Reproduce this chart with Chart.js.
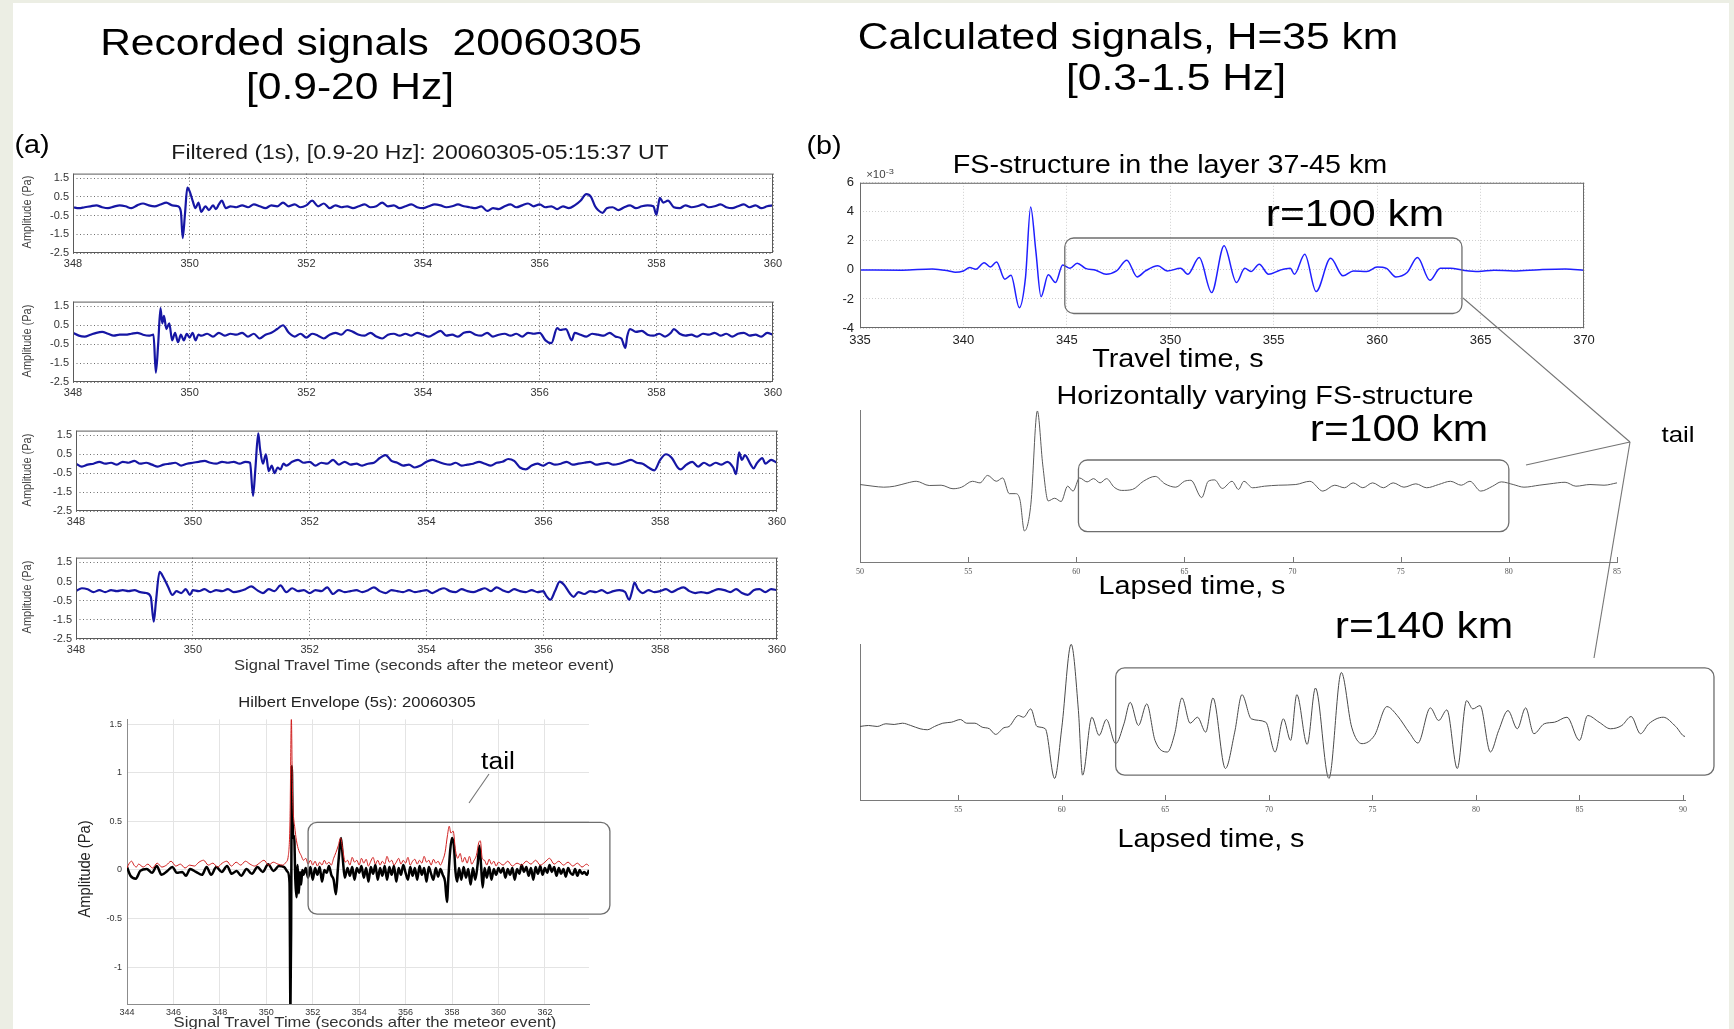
<!DOCTYPE html>
<html>
<head>
<meta charset="utf-8">
<script src="https://cdn.jsdelivr.net/npm/chart.js@4.4.1/dist/chart.umd.min.js"></script>
<style>
  html, body { margin: 0; padding: 0; }
  body { width: 1734px; height: 1029px; background: #eceee4; position: relative; overflow: hidden;
         font-family: 'Liberation Sans', Arial, sans-serif; }
  #sheet { position: absolute; left: 13px; top: 3px; width: 1716px; height: 1026px; background: #fff; }
  .panel { position: absolute; }
  .txt { position: absolute; white-space: pre; line-height: 1; color: #000; }
  #leaders { position: absolute; left: 0; top: 0; }
</style>
</head>
<body>
<div id="sheet"></div>
<script>
// ---- recorded signals, [time s, amplitude Pa] ----
const recTrace1 = [[348.0,-0.05],[348.1,-0.1],[348.2,-0.05],[348.3,0.0],[348.4,0.05],[348.5,-0.05],[348.6,-0.1],[348.7,-0.02],[348.8,0.05],[348.9,0.0],[349.0,-0.1],[349.1,0.05],[349.2,0.15],[349.3,0.05],[349.4,0.0],[349.5,0.1],[349.6,0.2],[349.7,0.05],[349.8,0.0],[349.85,-0.3],[349.88,-1.7],[349.92,-0.4],[349.96,1.0],[350.0,0.8],[350.05,0.3],[350.1,-0.1],[350.15,0.2],[350.2,-0.3],[350.27,0.0],[350.33,-0.2],[350.4,0.05],[350.45,-0.15],[350.5,0.1],[350.55,0.3],[350.62,-0.1],[350.7,0.0],[350.8,-0.05],[350.9,0.05],[351.0,-0.05],[351.1,0.1],[351.2,0.0],[351.3,-0.1],[351.4,0.05],[351.5,0.0],[351.6,0.2],[351.7,0.0],[351.8,0.1],[351.9,-0.05],[352.0,0.05],[352.1,0.3],[352.2,0.0],[352.3,0.15],[352.4,-0.1],[352.5,0.05],[352.6,-0.05],[352.7,0.0],[352.8,-0.1],[352.9,0.0],[353.0,0.1],[353.1,-0.05],[353.2,0.0],[353.3,0.2],[353.4,0.0],[353.5,0.05],[353.6,-0.1],[353.7,0.0],[353.8,0.1],[353.9,-0.05],[354.0,-0.1],[354.1,0.0],[354.2,0.1],[354.3,0.05],[354.4,-0.05],[354.5,0.0],[354.6,0.1],[354.7,0.0],[354.8,-0.05],[354.9,-0.1],[355.0,0.0],[355.1,-0.25],[355.2,-0.1],[355.3,-0.15],[355.4,0.0],[355.5,0.1],[355.6,-0.05],[355.7,0.05],[355.8,0.15],[355.9,0.0],[356.0,0.1],[356.1,-0.05],[356.2,0.0],[356.3,-0.15],[356.4,0.0],[356.5,-0.1],[356.6,0.05],[356.7,0.3],[356.8,0.65],[356.88,0.5],[356.95,0.0],[357.0,-0.2],[357.08,-0.35],[357.15,-0.1],[357.25,-0.05],[357.35,-0.2],[357.45,-0.05],[357.55,0.05],[357.65,-0.1],[357.75,0.0],[357.85,0.05],[357.95,0.0],[358.0,-0.45],[358.03,0.0],[358.06,0.45],[358.12,0.2],[358.2,0.3],[358.3,-0.05],[358.4,-0.1],[358.5,0.05],[358.6,-0.05],[358.7,0.0],[358.8,0.1],[358.9,-0.05],[359.0,0.0],[359.1,0.1],[359.2,-0.05],[359.3,-0.1],[359.4,0.0],[359.5,0.1],[359.6,-0.05],[359.7,0.05],[359.8,-0.1],[359.9,0.0],[360.0,0.05]];

const recTrace2 = [[348.0,0.1],[348.1,-0.05],[348.2,-0.1],[348.3,0.0],[348.4,0.1],[348.5,0.15],[348.6,0.05],[348.7,-0.05],[348.8,0.0],[348.9,0.0],[349.0,0.05],[349.1,0.1],[349.2,0.0],[349.3,-0.05],[349.38,0.0],[349.42,-2.0],[349.46,-0.5],[349.5,1.4],[349.53,0.6],[349.56,1.0],[349.6,0.3],[349.65,0.6],[349.7,-0.3],[349.75,0.1],[349.8,-0.4],[349.85,0.0],[349.9,-0.3],[349.95,0.05],[350.0,-0.15],[350.05,0.1],[350.1,-0.3],[350.15,0.0],[350.2,-0.05],[350.3,0.05],[350.4,-0.1],[350.5,0.1],[350.6,-0.05],[350.7,0.05],[350.8,0.0],[350.9,0.1],[351.0,-0.1],[351.1,0.05],[351.2,-0.2],[351.3,0.0],[351.4,0.1],[351.5,0.3],[351.6,0.5],[351.7,0.1],[351.8,-0.1],[351.9,0.05],[352.0,-0.15],[352.1,0.05],[352.2,-0.05],[352.3,-0.2],[352.4,0.0],[352.5,0.1],[352.6,0.0],[352.7,0.25],[352.8,0.15],[352.9,0.0],[353.0,-0.05],[353.1,0.1],[353.2,-0.1],[353.3,-0.2],[353.4,0.0],[353.5,0.05],[353.6,-0.05],[353.7,0.05],[353.8,-0.05],[353.9,0.1],[354.0,0.0],[354.1,-0.1],[354.2,0.05],[354.3,0.2],[354.4,-0.05],[354.5,0.0],[354.6,-0.1],[354.7,0.1],[354.8,0.15],[354.9,0.0],[355.0,-0.05],[355.1,0.1],[355.2,-0.1],[355.3,0.0],[355.4,0.05],[355.5,-0.05],[355.6,0.05],[355.7,-0.1],[355.8,0.1],[355.9,0.05],[356.0,0.1],[356.1,-0.3],[356.2,-0.45],[356.3,0.35],[356.35,0.25],[356.45,0.3],[356.55,-0.3],[356.6,0.1],[356.7,0.0],[356.8,-0.1],[356.9,0.05],[357.0,0.0],[357.1,-0.05],[357.2,0.1],[357.3,-0.1],[357.4,-0.2],[357.47,-0.7],[357.5,-0.1],[357.55,0.3],[357.65,0.15],[357.75,0.2],[357.85,0.0],[357.95,-0.05],[358.05,0.05],[358.15,-0.1],[358.25,0.1],[358.3,0.3],[358.4,0.05],[358.5,-0.05],[358.6,0.0],[358.7,-0.1],[358.8,0.05],[358.9,0.0],[359.0,0.1],[359.1,-0.05],[359.2,0.05],[359.3,-0.1],[359.4,0.05],[359.5,0.1],[359.6,-0.05],[359.7,0.0],[359.8,-0.1],[359.9,0.1],[360.0,0.0]];

const recTrace3 = [[348.0,0.0],[348.1,-0.15],[348.2,-0.05],[348.3,0.0],[348.4,0.1],[348.5,0.0],[348.6,0.05],[348.7,-0.05],[348.8,0.1],[348.9,0.05],[349.0,0.15],[349.1,0.0],[349.2,0.05],[349.3,-0.05],[349.4,-0.15],[349.5,-0.05],[349.6,0.0],[349.7,0.05],[349.8,-0.1],[349.9,0.0],[350.0,0.05],[350.1,0.1],[350.2,0.15],[350.3,0.05],[350.4,0.0],[350.5,0.1],[350.6,0.05],[350.7,0.1],[350.8,0.0],[350.9,0.1],[350.98,0.05],[351.03,-1.7],[351.07,-0.3],[351.12,1.6],[351.15,0.8],[351.2,0.0],[351.25,0.5],[351.3,-0.4],[351.35,-0.1],[351.4,-0.5],[351.45,-0.2],[351.5,-0.3],[351.55,0.0],[351.6,-0.1],[351.7,0.1],[351.8,0.2],[351.9,0.05],[352.0,0.1],[352.1,-0.1],[352.2,0.05],[352.3,0.0],[352.4,0.2],[352.5,-0.05],[352.6,0.1],[352.7,-0.05],[352.8,0.0],[352.9,-0.1],[353.0,0.0],[353.1,0.05],[353.2,0.3],[353.3,0.45],[353.4,0.15],[353.5,0.05],[353.6,-0.1],[353.7,-0.05],[353.8,-0.2],[353.9,-0.1],[354.0,0.1],[354.1,0.2],[354.2,0.1],[354.3,0.0],[354.4,-0.05],[354.5,0.05],[354.6,-0.1],[354.7,-0.05],[354.8,0.0],[354.9,0.1],[355.0,0.0],[355.1,-0.1],[355.2,0.05],[355.3,0.1],[355.4,0.25],[355.5,0.15],[355.6,-0.2],[355.7,-0.3],[355.8,-0.1],[355.9,0.0],[356.0,-0.1],[356.1,0.05],[356.2,-0.05],[356.3,0.0],[356.4,0.1],[356.5,-0.05],[356.6,0.0],[356.7,0.05],[356.8,0.1],[356.9,-0.05],[357.0,0.0],[357.1,0.05],[357.2,-0.05],[357.3,0.0],[357.4,0.1],[357.5,0.2],[357.6,0.05],[357.7,0.0],[357.8,-0.2],[357.9,-0.35],[358.0,0.2],[358.1,0.5],[358.2,0.3],[358.3,-0.2],[358.35,-0.3],[358.45,-0.05],[358.55,0.1],[358.65,-0.15],[358.75,0.05],[358.85,-0.1],[358.95,0.05],[359.05,-0.05],[359.15,0.1],[359.25,-0.2],[359.3,-0.55],[359.35,0.6],[359.4,0.2],[359.45,0.45],[359.55,-0.05],[359.6,-0.25],[359.65,0.0],[359.75,0.3],[359.8,0.0],[359.9,0.2],[360.0,0.05]];

const recTrace4 = [[348.0,0.0],[348.1,0.15],[348.2,0.1],[348.3,-0.05],[348.4,0.05],[348.5,-0.05],[348.6,0.05],[348.7,0.0],[348.8,0.05],[348.9,0.0],[349.0,0.05],[349.1,-0.05],[349.2,-0.1],[349.28,-0.3],[349.33,-1.6],[349.37,-0.5],[349.43,1.0],[349.5,0.7],[349.58,0.2],[349.65,-0.2],[349.72,0.0],[349.8,-0.1],[349.88,0.1],[349.95,-0.2],[350.0,0.05],[350.1,0.0],[350.2,0.1],[350.3,-0.05],[350.4,0.05],[350.5,0.0],[350.6,0.1],[350.7,-0.05],[350.8,0.0],[350.9,0.1],[351.0,0.25],[351.1,0.05],[351.2,-0.1],[351.3,0.1],[351.4,0.0],[351.5,0.3],[351.6,-0.05],[351.7,0.15],[351.8,0.0],[351.9,0.05],[352.0,-0.1],[352.1,0.05],[352.2,0.0],[352.3,0.2],[352.4,-0.15],[352.5,0.05],[352.6,-0.05],[352.7,0.0],[352.8,0.05],[352.9,-0.05],[353.0,0.05],[353.1,0.2],[353.2,0.0],[353.3,-0.1],[353.4,0.05],[353.5,0.0],[353.6,-0.05],[353.7,0.05],[353.8,-0.05],[353.9,0.0],[354.0,0.05],[354.1,-0.1],[354.2,0.05],[354.3,0.15],[354.4,0.0],[354.5,-0.05],[354.6,0.1],[354.7,0.0],[354.8,-0.05],[354.9,0.05],[355.0,0.15],[355.1,0.0],[355.2,0.2],[355.3,0.05],[355.4,-0.05],[355.5,0.1],[355.6,0.0],[355.7,-0.05],[355.8,0.05],[355.9,-0.05],[356.0,0.0],[356.05,-0.25],[356.12,-0.45],[356.2,0.0],[356.28,0.5],[356.35,0.35],[356.45,-0.1],[356.52,-0.3],[356.6,-0.05],[356.7,-0.15],[356.8,0.0],[356.9,-0.05],[357.0,0.05],[357.1,-0.1],[357.2,0.0],[357.3,0.05],[357.4,-0.05],[357.47,-0.45],[357.52,0.0],[357.56,0.45],[357.62,0.1],[357.7,-0.1],[357.8,0.05],[357.9,-0.05],[358.0,0.0],[358.1,0.1],[358.2,-0.05],[358.3,0.1],[358.4,0.2],[358.5,0.0],[358.6,-0.1],[358.7,-0.05],[358.8,-0.1],[358.9,0.0],[359.0,0.1],[359.1,0.05],[359.2,-0.05],[359.3,0.1],[359.4,-0.1],[359.5,-0.2],[359.6,0.05],[359.7,0.1],[359.8,-0.05],[359.9,0.1],[360.0,0.05]];

// ---- Hilbert envelope plot: raw trace (black) and envelope (red) ----
const hilbertBlack = [[344.0,0.03],[344.15,-0.06],[344.38,-0.09],[344.57,-0.01],[344.85,0.01],[345.08,-0.03],[345.28,0.04],[345.49,-0.05],[345.74,-0.01],[345.95,0.03],[346.15,-0.03],[346.38,-0.02],[346.54,-0.06],[346.72,0.01],[346.97,-0.02],[347.23,-0.05],[347.43,0.03],[347.62,-0.05],[347.85,0.03],[348.08,-0.02],[348.31,0.04],[348.51,-0.04],[348.72,-0.01],[348.92,-0.06],[349.15,0.01],[349.38,-0.04],[349.62,0.03],[349.85,-0.02],[350.08,0.06],[350.31,-0.01],[350.54,0.04],[350.77,0.03],[350.92,-0.02],[351.0,-0.13],[351.04,-1.45],[351.07,-0.6],[351.1,1.07],[351.13,0.55],[351.16,0.33],[351.2,0.35],[351.25,-0.1],[351.3,-0.28],[351.35,0.05],[351.4,-0.24],[351.45,-0.02],[351.5,-0.15],[351.55,0.0],[351.6,-0.05],[351.7,0.02],[351.8,-0.08],[351.9,0.03],[352.0,-0.1],[352.1,0.02],[352.2,-0.05],[352.3,0.03],[352.4,-0.12],[352.5,0.0],[352.6,-0.03],[352.7,0.04],[352.8,-0.05],[352.9,-0.1],[353.0,-0.25],[353.08,0.0],[353.15,0.2],[353.22,0.33],[353.3,0.1],[353.38,-0.08],[353.5,0.02],[353.6,-0.06],[353.7,0.03],[353.8,-0.1],[353.9,0.02],[354.0,-0.03],[354.1,0.04],[354.2,-0.08],[354.3,0.02],[354.4,-0.12],[354.5,0.03],[354.6,-0.04],[354.7,0.05],[354.8,-0.1],[354.9,0.02],[355.0,-0.06],[355.1,0.04],[355.2,-0.1],[355.3,0.03],[355.4,-0.05],[355.5,0.04],[355.6,-0.12],[355.7,0.02],[355.8,-0.05],[355.9,0.05],[356.0,-0.03],[356.1,-0.1],[356.2,0.03],[356.3,-0.06],[356.4,0.02],[356.5,-0.1],[356.6,0.04],[356.7,-0.05],[356.8,0.02],[356.9,-0.12],[357.0,0.03],[357.1,-0.04],[357.2,-0.1],[357.3,0.02],[357.4,-0.07],[357.5,0.01],[357.6,-0.05],[357.7,-0.12],[357.78,-0.33],[357.85,-0.05],[357.92,0.2],[358.0,0.33],[358.08,0.25],[358.15,-0.02],[358.22,-0.12],[358.3,0.02],[358.4,-0.1],[358.5,0.03],[358.6,-0.08],[358.7,0.01],[358.8,-0.15],[358.9,0.02],[359.0,-0.1],[359.1,0.05],[359.18,0.25],[359.25,0.05],[359.32,-0.18],[359.4,0.02],[359.5,-0.08],[359.6,0.03],[359.7,-0.1],[359.8,0.01],[359.9,-0.05],[360.0,0.02],[360.1,-0.03],[360.2,0.02],[360.3,-0.08],[360.4,0.01],[360.5,-0.05],[360.6,0.02],[360.7,-0.1],[360.8,0.01],[360.9,-0.04],[361.0,0.05],[361.1,-0.02],[361.2,0.03],[361.3,-0.06],[361.4,0.02],[361.5,-0.1],[361.6,0.03],[361.7,-0.04],[361.8,0.04],[361.9,-0.05],[362.0,0.02],[362.1,-0.03],[362.2,0.05],[362.3,-0.02],[362.4,0.03],[362.5,-0.06],[362.6,0.02],[362.7,-0.04],[362.8,0.01],[362.9,-0.07],[363.0,0.02],[363.1,-0.03],[363.2,-0.05],[363.3,0.01],[363.4,-0.06],[363.5,0.0],[363.6,-0.04],[363.7,-0.02],[363.8,-0.05],[363.9,0.0]];

const hilbertRed = [[344.0,0.02],[344.1,0.07],[344.2,0.09],[344.3,0.05],[344.4,0.03],[344.5,0.06],[344.7,0.03],[344.9,0.06],[345.1,0.02],[345.3,0.07],[345.5,0.03],[345.7,0.05],[345.9,0.09],[346.1,0.04],[346.3,0.06],[346.5,0.02],[346.7,0.05],[346.9,0.04],[347.1,0.08],[347.3,0.1],[347.5,0.05],[347.7,0.07],[347.9,0.03],[348.1,0.07],[348.3,0.09],[348.5,0.04],[348.7,0.08],[348.9,0.05],[349.1,0.09],[349.3,0.06],[349.5,0.04],[349.7,0.07],[349.9,0.1],[350.1,0.05],[350.3,0.08],[350.5,0.06],[350.7,0.05],[350.85,0.08],[350.95,0.15],[351.02,0.5],[351.08,1.57],[351.12,0.9],[351.16,0.6],[351.22,0.45],[351.3,0.3],[351.4,0.2],[351.5,0.15],[351.6,0.1],[351.7,0.12],[351.8,0.06],[351.9,0.1],[352.0,0.05],[352.1,0.09],[352.2,0.04],[352.3,0.08],[352.4,0.05],[352.5,0.1],[352.6,0.06],[352.7,0.08],[352.8,0.05],[352.9,0.12],[353.0,0.18],[353.1,0.25],[353.2,0.33],[353.3,0.2],[353.4,0.08],[353.5,0.1],[353.6,0.05],[353.7,0.13],[353.8,0.08],[353.9,0.1],[354.0,0.05],[354.1,0.12],[354.2,0.07],[354.3,0.11],[354.4,0.04],[354.5,0.09],[354.6,0.13],[354.7,0.06],[354.8,0.1],[354.9,0.05],[355.0,0.09],[355.1,0.06],[355.2,0.14],[355.3,0.08],[355.4,0.1],[355.5,0.05],[355.6,0.08],[355.7,0.12],[355.8,0.06],[355.9,0.1],[356.0,0.07],[356.1,0.13],[356.2,0.05],[356.3,0.09],[356.4,0.11],[356.5,0.06],[356.6,0.1],[356.7,0.07],[356.8,0.14],[356.9,0.08],[357.0,0.1],[357.1,0.05],[357.2,0.11],[357.3,0.07],[357.4,0.09],[357.5,0.05],[357.6,0.1],[357.7,0.18],[357.8,0.35],[357.88,0.45],[357.95,0.38],[358.05,0.4],[358.15,0.2],[358.25,0.12],[358.35,0.17],[358.45,0.08],[358.55,0.13],[358.65,0.07],[358.75,0.14],[358.85,0.06],[358.95,0.1],[359.05,0.15],[359.15,0.28],[359.22,0.3],[359.3,0.12],[359.4,0.1],[359.5,0.05],[359.6,0.11],[359.7,0.06],[359.8,0.09],[359.9,0.04],[360.0,0.08],[360.2,0.05],[360.4,0.09],[360.6,0.04],[360.8,0.07],[361.0,0.05],[361.2,0.09],[361.4,0.06],[361.6,0.1],[361.8,0.05],[362.0,0.08],[362.2,0.12],[362.4,0.06],[362.6,0.09],[362.8,0.05],[363.0,0.08],[363.2,0.04],[363.4,0.07],[363.6,0.03],[363.8,0.06],[363.9,0.04]];

// ---- calculated signals ----
// FS-structure, r=100 km: travel time s, amplitude x1e-3
const fsTrace = [[335,0],[337.05,-0.02],[338.5,0.07],[339.3,-0.07],[339.6,-0.16],[340.0,-0.07],[340.3,0.16],[340.6,0.05],[341.0,0.5],[341.3,0.2],[341.6,0.55],[342.0,-0.64],[342.3,-0.37],[342.7,-2.6],[343.0,-0.53],[343.25,4.34],[343.5,1.31],[343.75,-1.84],[344.1,-0.34],[344.45,-0.87],[344.8,0.34],[345.15,0.11],[345.5,0.46],[345.9,0.11],[346.4,-0.02],[346.9,-0.3],[347.4,-0.07],[347.9,0.67],[348.4,-0.48],[348.8,-0.07],[349.4,0.28],[349.85,-0.07],[350.5,0.11],[350.85,-0.3],[351.4,0.85],[352.0,-1.56],[352.6,1.66],[353.2,-0.87],[353.6,0.11],[353.9,-0.11],[354.3,0.39],[354.75,-0.3],[355.3,-0.02],[355.8,0.11],[356.0,-0.3],[356.5,1.08],[357.05,-1.49],[357.75,0.8],[358.35,-0.41],[358.85,-0.07],[359.5,-0.11],[360.0,0.2],[360.45,0.11],[360.9,-0.48],[361.45,-0.18],[361.95,0.85],[362.55,-0.71],[363.05,0.11],[363.55,0.11],[364.15,-0.02],[364.9,-0.11],[365.65,-0.02],[366.6,-0.07],[367.85,0.02],[369.1,0.07],[370,-0.02]];

// horizontally varying FS-structure, r=100 km: lapsed time s, relative amplitude
const hvTrace = [[50,0],[50.6,-0.17],[51.1,-0.27],[51.6,-0.17],[52.2,0.17],[52.6,0.33],[53.2,-0.1],[53.75,-0.07],[54.3,-0.43],[54.7,-0.27],[55.2,0.33],[55.55,0.17],[55.9,0.93],[56.3,0.33],[56.6,0.67],[56.9,-0.93],[57.2,-0.93],[57.4,-1.6],[57.6,-4.73],[57.9,-2.0],[58.2,7.5],[58.45,2.0],[58.7,-1.67],[59.0,-1.4],[59.3,-1.73],[59.6,-0.17],[59.85,-0.67],[60.15,0.67],[60.5,0.27],[60.8,0.6],[61.1,0.17],[61.4,0.6],[61.75,-0.27],[62.1,-0.6],[62.6,-0.5],[63.1,0.33],[63.65,0.83],[64.1,0.07],[64.6,-0.27],[65.0,0.33],[65.3,0.43],[65.8,-1.33],[66.1,0.33],[66.4,0.47],[66.75,-0.4],[67.2,0.33],[67.5,-0.5],[67.75,0.33],[68.15,-0.33],[68.7,-0.17],[69.35,-0.07],[70.15,0],[70.8,0.33],[71.4,-0.67],[71.95,-0.07],[72.4,-0.33],[72.8,0.17],[73.25,-0.33],[73.7,0.17],[74.2,-0.33],[74.65,0.17],[75.15,-0.27],[75.7,0.07],[76.2,-0.33],[76.75,0],[77.3,0.33],[77.8,-0.07],[78.2,0.33],[78.7,-0.67],[79.25,-0.17],[79.65,0.27],[80.2,0],[80.7,-0.27],[81.4,-0.07],[81.9,0.07],[82.6,0.23],[83.1,-0.17],[83.75,0],[84.4,-0.07],[85,0.17]];

// horizontally varying FS-structure, r=140 km
const r140Trace = [[50.25,0],[50.66,0.1],[51.08,0],[51.5,0.27],[51.9,0.2],[52.3,0.33],[52.7,0.1],[53.15,-0.23],[53.5,-0.33],[53.85,0],[54.25,0.33],[54.67,0.43],[55.1,0.7],[55.4,0.33],[55.8,0.33],[56.15,-0.07],[56.5,-0.23],[56.8,-0.8],[57.2,-0.13],[57.45,0],[57.9,1.1],[58.15,0.93],[58.5,1.77],[58.8,0],[59.2,-0.23],[59.65,-5.23],[60.0,-0.07],[60.45,8.27],[60.8,1.6],[61.0,-4.9],[61.45,0.93],[61.8,-0.9],[62.15,0.7],[62.6,-1.73],[63.0,0.27],[63.3,2.43],[63.7,0.1],[64.1,2.27],[64.5,-1.4],[65.1,-2.57],[65.45,-0.73],[65.8,2.87],[66.2,0.33],[66.55,0.93],[66.95,-0.57],[67.3,2.87],[67.9,-4.23],[68.35,-0.57],[68.7,3.2],[69.15,0.77],[69.85,0.43],[70.3,-2.57],[70.7,0.77],[71.05,-1.4],[71.35,3.2],[71.85,-1.8],[72.25,3.87],[72.9,-5.23],[73.5,5.43],[74.0,-0.07],[74.5,-1.73],[75.1,-0.9],[75.7,2.0],[76.2,1.1],[76.8,-0.67],[77.2,-1.67],[77.8,1.87],[78.2,0.6],[78.6,1.67],[79.1,-4.23],[79.55,2.6],[79.85,1.77],[80.2,2.1],[80.7,-2.57],[81.1,-0.4],[81.55,1.6],[82.0,-0.23],[82.4,1.87],[82.8,-0.73],[83.3,0.27],[83.8,0.43],[84.4,0.93],[85.0,-1.4],[85.4,1.1],[85.95,0.43],[86.5,-0.23],[87.05,0.1],[87.5,1.0],[87.95,-0.73],[88.35,0.27],[89.05,0.93],[89.65,0],[90.1,-1.0],[90.3,-0.4]];

// ---- tick values ----
const recXTicks = [348, 350, 352, 354, 356, 358, 360];
const recYTicks = [-2.5, -1.5, -0.5, 0.5, 1.5];
const hilXTicks = [344, 346, 348, 350, 352, 354, 356, 358, 360, 362];
const hilYTicks = [-1, -0.5, 0, 0.5, 1, 1.5];
const fsXTicks = [335, 340, 345, 350, 355, 360, 365, 370];
const fsYTicks = [-4, -2, 0, 2, 4, 6];
const hvXTicks = [50, 55, 60, 65, 70, 75, 80, 85];
const r140XTicks = [55, 60, 65, 70, 75, 80, 85, 90];

// "tail" windows, in data units: [t0, t1, top, bottom]
const hilTailBox = [351.8, 364.8, 0.49, -0.455];
const fsTailBox = [344.9, 364.1, 2.2, -3.0];
const hvTailBox = [60.1, 80.0, 2.5, -4.8];
const r140TailBox = [62.6, 91.5, 5.9, -4.9];

const SANS = "'Liberation Sans', Arial, sans-serif";
const SERIF = "'Liberation Serif', 'Times New Roman', serif";
const STRETCH = 1.15;

// frame, rounded windows and small inward tick marks
const decor = {
  id: 'decor',
  afterDatasetsDraw(chart, args, opts) {
    const { ctx, chartArea: a, scales } = chart;
    const sx = scales.x, sy = scales.y;
    ctx.save();
    if (opts.frame) {
      ctx.strokeStyle = opts.frame;
      ctx.lineWidth = 1;
      ctx.strokeRect(a.left + 0.5, a.top + 0.5, a.width - 1, a.height - 1);
    }
    if (opts.box) {
      const [t0, t1, v0, v1] = opts.box;
      const px0 = sx.getPixelForValue(t0), px1 = sx.getPixelForValue(t1);
      const py0 = sy.getPixelForValue(v0), py1 = sy.getPixelForValue(v1);
      ctx.beginPath();
      ctx.roundRect(px0, py0, px1 - px0, py1 - py0, 9);
      ctx.strokeStyle = '#6e6e6e';
      ctx.lineWidth = 1.3;
      ctx.stroke();
    }
    if (opts.marks) {
      ctx.strokeStyle = '#777';
      ctx.lineWidth = 1;
      opts.marks.forEach(v => {
        const px = Math.round(sx.getPixelForValue(v)) + 0.5;
        ctx.beginPath();
        ctx.moveTo(px, a.bottom);
        ctx.lineTo(px, a.bottom - 5);
        ctx.stroke();
      });
    }
    ctx.restore();
  }
};

Chart.register(decor);
Chart.defaults.font.family = SANS;
Chart.defaults.animation = false;

const toXY = pts => pts.map(([x, y]) => ({ x, y }));
const fixedTicks = values => scale => { scale.ticks = values.map(v => ({ value: v })); };

function panel(area, pad, datasets, scales, decorOpts) {
  const [x0, y0, x1, y1] = area;
  const [pl, pt, pr, pb] = pad;
  const w = x1 - x0 + pl + pr, h = y1 - y0 + pt + pb;
  const wrap = document.createElement('div');
  wrap.className = 'panel';
  wrap.style.left = (x0 - pl) + 'px';
  wrap.style.top = (y0 - pt) + 'px';
  wrap.style.width = w + 'px';
  wrap.style.height = h + 'px';
  const canvas = document.createElement('canvas');
  canvas.width = w;
  canvas.height = h;
  wrap.appendChild(canvas);
  document.body.appendChild(wrap);

  scales.x.afterFit = s => { s.height = pb; };
  scales.y.afterFit = s => { s.width = pl; };

  return new Chart(canvas, {
    type: 'line',
    data: { datasets },
    options: {
      responsive: false,
      animation: false,
      events: [],
      layout: { padding: { left: 0, top: pt, right: pr, bottom: 0 } },
      plugins: { legend: { display: false }, tooltip: { enabled: false }, decor: decorOpts || {} },
      scales
    }
  });
}

// every trace is drawn as a smooth monotone curve through its samples
function line(pts, color, width) {
  return {
    data: toXY(pts),
    borderColor: color,
    borderWidth: width,
    pointRadius: 0,
    fill: false,
    cubicInterpolationMode: 'monotone'
  };
}

// ---- recorded panels ----
function recScales() {
  const tickOpts = { color: '#333', font: { size: 11 }, padding: 4, autoSkip: false, maxRotation: 0,
                     callback: v => String(v) };
  const grid = { color: '#6f6f6f', lineWidth: 1, drawTicks: false };
  return {
    x: { type: 'linear', min: 348, max: 360, afterBuildTicks: fixedTicks(recXTicks),
         grid, border: { display: false, dash: [1, 2.5] }, ticks: tickOpts },
    y: { type: 'linear', min: -2.5, max: 1.75, afterBuildTicks: fixedTicks(recYTicks),
         grid, border: { display: false, dash: [1, 2.5] }, ticks: tickOpts }
  };
}

const recAreas = [
  [73, 171, 773, 253],
  [73, 299, 773, 382],
  [76, 428, 777, 511],
  [76, 555, 777, 639]
];
const recTraces = [recTrace1, recTrace2, recTrace3, recTrace4];
recAreas.forEach((area, i) => {
  panel(area, [36, 8, 22, 20], [line(recTraces[i], '#1616a4', 2.2)], recScales(), { frame: '#5a5a5a' });
});

// ---- Hilbert envelope panel ----
panel([127, 717, 589, 1004], [30, 8, 30, 18],
  [line(hilbertRed, '#d01f1f', 1), line(hilbertBlack, '#000', 2.5)],
  {
    x: { type: 'linear', min: 344, max: 363.9, afterBuildTicks: fixedTicks(hilXTicks),
         grid: { color: '#e4e4e4', drawTicks: false }, border: { color: '#8c8c8c' },
         ticks: { color: '#333', font: { size: 9 }, padding: 3, maxRotation: 0, autoSkip: false } },
    y: { type: 'linear', min: -1.38, max: 1.55, afterBuildTicks: fixedTicks(hilYTicks),
         grid: { color: '#e4e4e4', drawTicks: false }, border: { color: '#8c8c8c' },
         ticks: { color: '#333', font: { size: 9 }, padding: 5, callback: v => String(v) } }
  },
  { box: hilTailBox });

// ---- FS-structure panel ----
panel([860, 181, 1584, 328], [30, 12, 20, 24],
  [line(fsTrace, '#1f1fff', 1.5)],
  {
    x: { type: 'linear', min: 335, max: 370, afterBuildTicks: fixedTicks(fsXTicks),
         grid: { color: '#cfcfcf', drawTicks: false }, border: { display: false, dash: [1, 2] },
         ticks: { color: '#222', font: { size: 13 }, padding: 5, maxRotation: 0, autoSkip: false } },
    y: { type: 'linear', min: -4, max: 6, afterBuildTicks: fixedTicks(fsYTicks),
         grid: { color: '#cfcfcf', drawTicks: false }, border: { display: false, dash: [1, 2] },
         ticks: { color: '#222', font: { size: 13 }, padding: 6 } }
  },
  { frame: '#6a6a6a', box: fsTailBox });

// ---- lapsed-time panels (axes only on left and bottom) ----
function lapsedScales(xmin, xmax, ticks, ymin, ymax) {
  return {
    x: { type: 'linear', min: xmin, max: xmax, afterBuildTicks: fixedTicks(ticks),
         grid: { display: true, drawOnChartArea: false, drawTicks: false }, border: { color: '#7a7a7a' },
         ticks: { color: '#555', font: { size: 8, family: SERIF }, padding: 5, maxRotation: 0, autoSkip: false } },
    y: { type: 'linear', min: ymin, max: ymax,
         grid: { display: true, drawOnChartArea: false, drawTicks: false }, border: { color: '#7a7a7a' },
         ticks: { display: false } }
  };
}

panel([860, 410, 1617, 562], [10, 10, 40, 22],
  [line(hvTrace, '#5a5a5a', 1)],
  lapsedScales(50, 85, hvXTicks, -7.9, 7.6),
  { box: hvTailBox, marks: hvXTicks });

panel([860, 644, 1685, 800], [10, 10, 45, 22],
  [line(r140Trace, '#4a4a4a', 1)],
  lapsedScales(50.25, 90.1, r140XTicks, -7.4, 8.3),
  { box: r140TailBox, marks: r140XTicks });

// ---- leader lines joining the tail windows ----
const svgNS = 'http://www.w3.org/2000/svg';
const svg = document.createElementNS(svgNS, 'svg');
svg.setAttribute('id', 'leaders');
svg.setAttribute('width', 1734);
svg.setAttribute('height', 1029);
[[1463, 298, 1630, 442], [1630, 442, 1526, 465], [1630, 442, 1594, 658], [489, 774, 469, 803]]
  .forEach(([ax, ay, bx, by]) => {
    const l = document.createElementNS(svgNS, 'line');
    l.setAttribute('x1', ax); l.setAttribute('y1', ay);
    l.setAttribute('x2', bx); l.setAttribute('y2', by);
    l.setAttribute('stroke', '#747474');
    l.setAttribute('stroke-width', 1.1);
    svg.appendChild(l);
  });
document.body.appendChild(svg);

// ---- text ----
function addText(html, cx, cy, size, opts = {}) {
  const el = document.createElement('div');
  el.className = 'txt';
  el.innerHTML = html;
  el.style.left = cx + 'px';
  el.style.top = cy + 'px';
  el.style.fontSize = size + 'px';
  if (opts.color) el.style.color = opts.color;
  const rot = opts.rotate ? ' rotate(-90deg)' : '';
  el.style.transform = `translate(-50%, -50%) scaleX(${STRETCH})${rot}`;
  document.body.appendChild(el);
}

addText('Recorded signals  20060305', 371, 42, 37);
addText('[0.9-20 Hz]', 350, 86, 37);
addText('Calculated signals, H=35 km', 1128, 36, 37);
addText('[0.3-1.5 Hz]', 1176, 77, 37);

addText('(a)', 32, 144, 25);
addText('Filtered (1s), [0.9-20 Hz]: 20060305-05:15:37 UT', 420, 152, 20, { color: '#1a1a1a' });
recAreas.forEach(([x0, y0, x1, y1]) => {
  addText('Amplitude (Pa)', 27, (y0 + y1) / 2, 11, { color: '#444', rotate: true });
});
addText('Signal Travel Time (seconds after the meteor event)', 424, 665, 14.4, { color: '#333' });

addText('Hilbert Envelope (5s): 20060305', 357, 702, 14.4, { color: '#222' });
addText('Amplitude (Pa)', 85, 869, 14.7, { color: '#222', rotate: true });
addText('Signal Travel Time (seconds after the meteor event)', 365, 1022, 14.5, { color: '#333' });
addText('tail', 498, 761, 23);

addText('(b)', 824, 145, 25);
addText('FS-structure in the layer 37-45 km', 1170, 164, 25);
addText('×10<sup style="font-size:8px">-3</sup>', 880, 174, 10, { color: '#444' });
addText('r=100 km', 1355, 213, 37);
addText('Travel time, s', 1178, 358, 25);

addText('Horizontally varying FS-structure', 1265, 395, 25);
addText('r=100 km', 1399, 428, 37);
addText('tail', 1678, 435, 22.5);
addText('Lapsed time, s', 1192, 585, 25);

addText('r=140 km', 1424, 625, 37);
addText('Lapsed time, s', 1211, 838, 25);
</script>
</body>
</html>
